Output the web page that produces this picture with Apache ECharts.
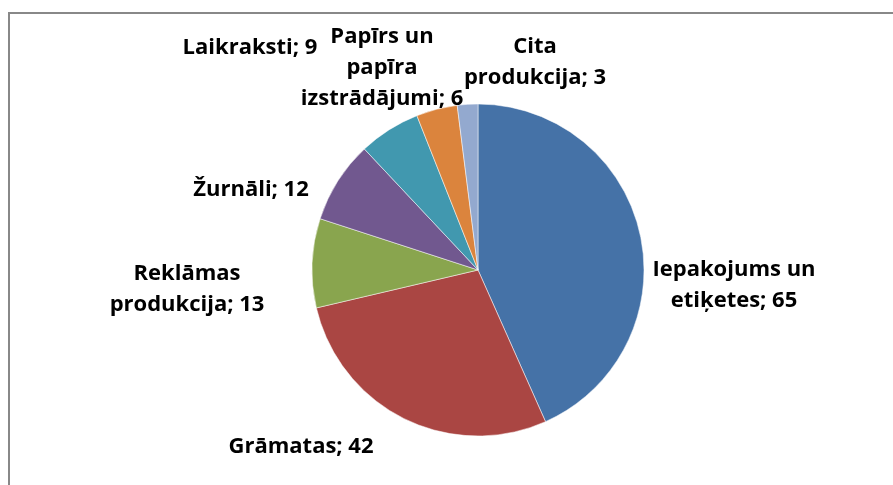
<!DOCTYPE html>
<html>
<head>
<meta charset="utf-8">
<script src="https://cdn.jsdelivr.net/npm/echarts@6/dist/echarts.min.js"></script>
<style>
  html, body { margin: 0; padding: 0; background: #fff; }
  #main { width: 893px; height: 485px; }
</style>
</head>
<body>
<div id="main"></div>
<script>
// categories and values, clockwise from 12 o'clock
var categories = [
  "Iepakojums un etiķetes",
  "Grāmatas",
  "Reklāmas produkcija",
  "Žurnāli",
  "Laikraksti",
  "Papīrs un papīra izstrādājumi",
  "Cita produkcija"
];
var values = [65, 42, 13, 12, 9, 6, 3];
// how each label wraps
var labelLines = [
  ["Iepakojums un", "etiķetes"],
  ["Grāmatas"],
  ["Reklāmas", "produkcija"],
  ["Žurnāli"],
  ["Laikraksti"],
  ["Papīrs un", "papīra", "izstrādājumi"],
  ["Cita", "produkcija"]
];

var colors = ["#4572A7", "#AA4643", "#89A54E", "#71588F", "#4198AF", "#DB843D", "#93A9CF"];
// label anchor (centre of text block) per slice
var labelAnchor = [
  [734, 285], [301, 447], [187, 289], [251, 190], [250, 48], [382, 68], [535, 62]
];

var myChart = echarts.init(document.getElementById("main"));

myChart.setOption({
  animation: false,
  color: colors,
  graphic: [
    {
      type: "rect",
      shape: { x: 9, y: 13, width: 900, height: 500 },
      style: { fill: null, stroke: "#888", lineWidth: 2 },
      silent: true
    }
  ],
  series: [
    {
      type: "pie",
      center: [478, 270],
      radius: 166,
      startAngle: 90,
      clockwise: true,
      avoidLabelOverlap: false,
      itemStyle: { borderColor: "#fff", borderWidth: 0.5 },
      label: {
        show: true,
        position: "outside",
        color: "#000",
        fontFamily: "Open Sans",
        fontWeight: "bold",
        fontSize: 22,
        lineHeight: 31,
        align: "center",
        formatter: function (p) {
          var lines = labelLines[p.dataIndex].slice();
          lines[lines.length - 1] += "; " + p.value;
          return lines.join("\n");
        }
      },
      labelLine: { show: false },
      labelLayout: function (p) {
        var a = labelAnchor[p.dataIndex];
        return { x: a[0], y: a[1], align: "center", verticalAlign: "middle" };
      },
      data: categories.map(function (c, i) {
        return { name: c, value: values[i] };
      })
    }
  ]
});
</script>
</body>
</html>
